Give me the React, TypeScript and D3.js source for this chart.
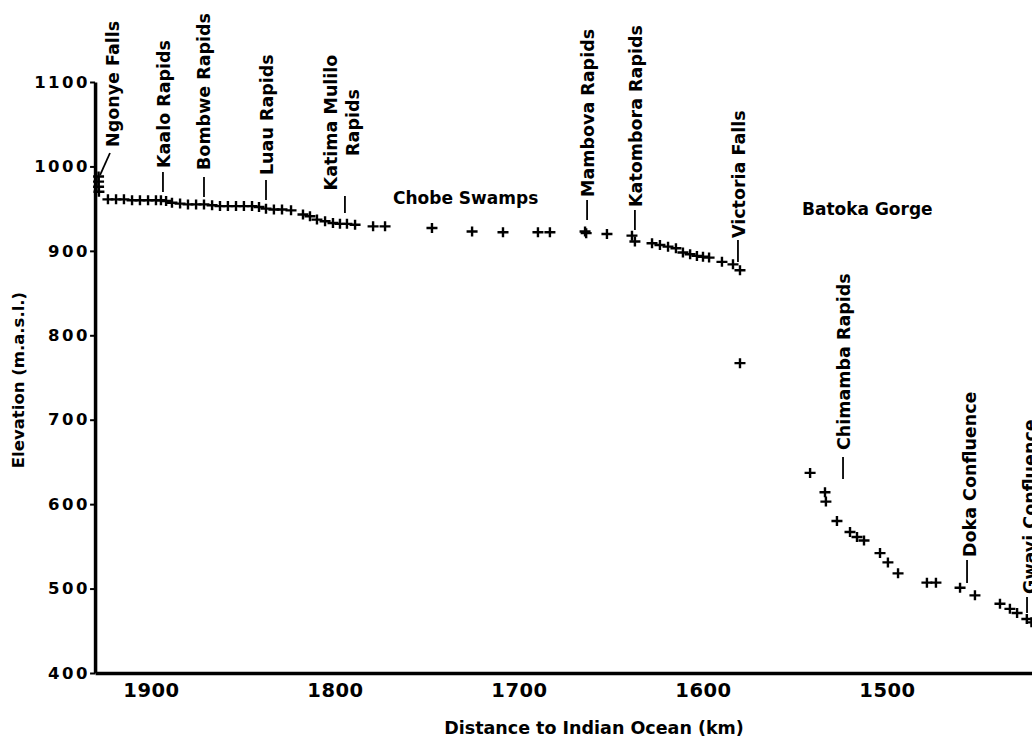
import React, { useEffect, useRef } from 'react';
import * as d3 from 'd3';

// ---- data: longitudinal profile of the Zambezi (distance to Indian Ocean, elevation) ----
const distanceKm = [
  1928.5, 1928.5, 1928.5, 1928.3,
  1923.4, 1919.0, 1914.7, 1910.3, 1906.0, 1901.6, 1897.3, 1894.6, 1891.8,
  1888.6, 1884.2, 1879.9, 1875.5, 1871.2, 1866.8, 1862.5, 1858.2, 1853.8, 1849.5, 1845.1, 1841.3,
  1837.5, 1833.2, 1828.8, 1823.9,
  1817.4, 1813.6, 1809.8, 1805.4, 1801.1, 1797.3, 1793.5, 1789.1,
  1779.3, 1772.8, 1747.3, 1725.5, 1708.7, 1689.7, 1683.2, 1664.1, 1663.5, 1652.2, 1638.6, 1637.0,
  1627.7, 1623.4, 1619.0, 1614.7, 1610.9, 1607.0, 1603.3, 1600.0, 1596.7, 1589.7, 1583.7, 1579.9, 1579.9,
  1541.8, 1533.7, 1533.2, 1527.2, 1520.1, 1516.3, 1512.5, 1503.8, 1499.5, 1494.0,
  1478.3, 1473.4, 1460.3, 1452.2, 1438.6, 1433.2, 1429.3, 1424.0, 1421.5,
];
const elevationM = [
  988, 982, 976, 970,
  961, 961, 961, 960, 960, 960, 960, 960, 959,
  957, 956, 955, 955, 955, 954, 953, 953, 953, 953, 953, 952,
  950, 949, 949, 948,
  943, 941, 937, 935, 933, 932, 932, 931,
  929, 929, 927, 923, 922, 922, 922, 923, 921, 920, 918, 911,
  909, 907, 905, 903, 898, 896, 894, 893, 892, 887, 884, 877, 767,
  637, 614, 603, 580, 567, 561, 557, 542, 531, 518,
  507, 507, 501, 492, 482, 476, 471, 464, 460,
];

const yTicks = [400, 500, 600, 700, 800, 900, 1000, 1100];
const xTicks = [1900, 1800, 1700, 1600, 1500];

// feature labels (rotated), anchored in data space
const featureNames = [
  'Ngonye Falls', 'Kaalo Rapids', 'Bombwe Rapids', 'Luau Rapids', 'Katima Mulilo', 'Rapids',
  'Mambova Rapids', 'Katombora Rapids', 'Victoria Falls', 'Chimamba Rapids', 'Doka Confluence', 'Gwayi Confluence',
];
const featureTextKm = [1917.4, 1889.7, 1867.9, 1833.7, 1798.9, 1787.0, 1659.2, 1633.2, 1577.2, 1520.0, 1451.6, 1419.0];
const featureTextElev = [1023, 998.1, 995.8, 989.8, 1052, 1052, 963.8, 952, 915.2, 664.1, 537.4, 493.6];
const featureCentered = [false, false, false, false, true, true, false, false, false, false, false, false];

// leader lines
const leaderKm1 = [1927.7, 1893.5, 1871.2, 1837.5, 1794.6, 1663.0, 1637.0, 1581.0, 1523.9, 1456.5, 1423.9];
const leaderElev1 = [989.8, 969.7, 963.8, 960.2, 944.8, 936.6, 924.7, 886.8, 629.8, 506.6, 471.0];
const leaderKm2 = [1922.3, 1893.5, 1871.2, 1837.5, 1794.6, 1663.0, 1637.0, 1581.0, 1523.9, 1456.5, 1423.9];
const leaderElev2 = [1015.9, 993.4, 987.5, 983.9, 965.0, 960.2, 948.4, 912.9, 655.9, 533.9, 490.0];

// horizontal region labels
const regionNames = ['Chobe Swamps', 'Batoka Gorge'];
const regionKm = [1768.5, 1546.2];
const regionElev = [955.5, 942.5];

const FONT = '"DejaVu Sans", Verdana, sans-serif';

export default function App() {
  const ref = useRef<SVGSVGElement | null>(null);

  useEffect(() => {
    const svg = d3.select(ref.current);
    svg.selectAll('*').remove();

    const x = d3.scaleLinear().domain([1900, 1500]).range([151, 887]);
    const y = d3.scaleLinear().domain([1100, 400]).range([82, 673]);
    const xLeft = 1930.4;
    const xRight = 1417;
    const xAxisScale = x.copy().domain([xLeft, xRight]).range([x(xLeft), x(xRight)]);

    // Y axis
    const gy = svg
      .append('g')
      .attr('transform', `translate(${x(xLeft)},0)`)
      .call(d3.axisLeft(y).tickValues(yTicks).tickSize(5).tickPadding(0).tickSizeOuter(0).tickFormat(d3.format('d')));
    gy.select('.domain').attr('stroke', '#000').attr('stroke-width', 3.5);
    gy.selectAll('.tick line').attr('stroke', '#000').attr('stroke-width', 2);
    gy.selectAll('.tick text')
      .attr('fill', '#000')
      .style('font-family', FONT)
      .style('font-weight', 'bold')
      .style('font-size', '16.5px')
      .style('letter-spacing', '2.5px');

    // X axis
    const gx = svg
      .append('g')
      .attr('transform', `translate(0,${y(400)})`)
      .call(d3.axisBottom(xAxisScale).tickValues(xTicks).tickSize(0).tickPadding(10).tickSizeOuter(0).tickFormat(d3.format('d')));
    gx.select('.domain').attr('stroke', '#000').attr('stroke-width', 3.5);
    gx.selectAll('.tick text')
      .attr('fill', '#000')
      .style('font-family', FONT)
      .style('font-weight', 'bold')
      .style('font-size', '19.5px')
      .style('letter-spacing', '0.5px');

    // axis titles
    svg
      .append('text')
      .attr('x', 594)
      .attr('y', 734)
      .attr('text-anchor', 'middle')
      .style('font-family', FONT)
      .style('font-weight', 'bold')
      .style('font-size', '17.5px')
      .text('Distance to Indian Ocean (km)');
    svg
      .append('text')
      .attr('transform', 'translate(24,380) rotate(-90)')
      .attr('text-anchor', 'middle')
      .style('font-family', FONT)
      .style('font-weight', 'bold')
      .style('font-size', '16.5px')
      .text('Elevation (m.a.s.l.)');

    // data markers
    const pts = distanceKm.map((d, i) => ({ d, e: elevationM[i] }));
    svg
      .append('g')
      .selectAll('path')
      .data(pts)
      .join('path')
      .attr('transform', (p) => `translate(${x(p.d)},${y(p.e)})`)
      .attr('d', 'M-5.5,0H5.5M0,-5V5')
      .attr('stroke', '#000')
      .attr('stroke-width', 2.4)
      .attr('fill', 'none');

    // leader lines
    const leaders = leaderKm1.map((k, i) => ({ x1: k, y1: leaderElev1[i], x2: leaderKm2[i], y2: leaderElev2[i] }));
    svg
      .append('g')
      .selectAll('line')
      .data(leaders)
      .join('line')
      .attr('x1', (l) => x(l.x1))
      .attr('y1', (l) => y(l.y1))
      .attr('x2', (l) => x(l.x2))
      .attr('y2', (l) => y(l.y2))
      .attr('stroke', '#000')
      .attr('stroke-width', 1.8);

    // rotated feature labels
    const feats = featureNames.map((n, i) => ({ n, d: featureTextKm[i], e: featureTextElev[i], c: featureCentered[i] }));
    svg
      .append('g')
      .selectAll('text')
      .data(feats)
      .join('text')
      .attr('transform', (f) => `translate(${x(f.d)},${y(f.e)}) rotate(-90)`)
      .attr('text-anchor', (f) => (f.c ? 'middle' : 'start'))
      .style('font-family', FONT)
      .style('font-weight', 'bold')
      .style('font-size', '17.5px')
      .text((f) => f.n);

    // horizontal region labels
    const regs = regionNames.map((n, i) => ({ n, d: regionKm[i], e: regionElev[i] }));
    svg
      .append('g')
      .selectAll('text')
      .data(regs)
      .join('text')
      .attr('x', (r) => x(r.d))
      .attr('y', (r) => y(r.e))
      .style('font-family', FONT)
      .style('font-weight', 'bold')
      .style('font-size', '17px')
      .text((r) => r.n);
  }, []);

  return (
    <svg
      ref={ref}
      width={1032}
      height={740}
      style={{ position: 'absolute', left: 0, top: 0, background: '#fff', display: 'block' }}
    />
  );
}
